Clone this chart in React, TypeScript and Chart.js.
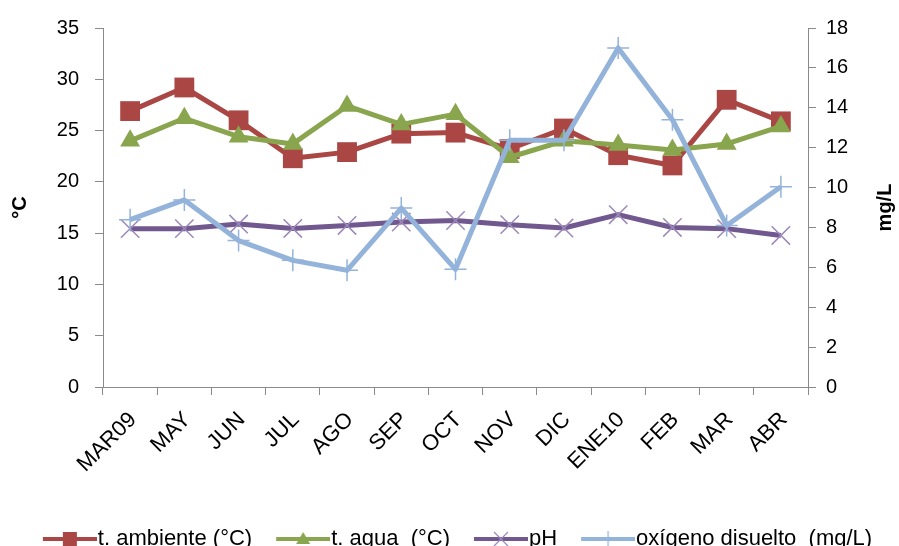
import React, { useEffect, useRef } from "react";
import { Chart, registerables } from "chart.js";

Chart.register(...registerables);

const categories = ["MAR09", "MAY", "JUN", "JUL", "AGO", "SEP", "OCT", "NOV", "DIC", "ENE10", "FEB", "MAR", "ABR"];
const tAmbiente = [26.9, 29.2, 26.0, 22.3, 22.9, 24.7, 24.8, 23.2, 25.2, 22.6, 21.6, 28.0, 25.9];
const tAgua = [24.0, 26.2, 24.4, 23.7, 27.4, 25.6, 26.6, 22.4, 24.0, 23.6, 23.1, 23.7, 25.4];
const pH = [7.94, 7.94, 8.17, 7.95, 8.1, 8.27, 8.35, 8.14, 7.97, 8.64, 8.0, 7.94, 7.6];
const oxigeno = [8.39, 9.38, 7.34, 6.35, 5.85, 8.97, 5.9, 12.37, 12.37, 17.0, 13.4, 8.1, 10.04];

const seriesNames = ["t. ambiente (°C)", "t. agua  (°C)", "pH", "oxígeno disuelto  (mg/L)"];
const leftTitle = "°C";
const rightTitle = "mg/L";

const RED = "#AA4643";
const GREEN = "#89A54E";
const PURPLE = "#71588F";
const PURPLE_MARK = "#9C88BA";
const BLUE = "#93B3DA";
const AXIS = "#8A8A8A";
const FONT = "'Liberation Sans', Arial, sans-serif";

// legend icon: transparent left part acts as spacing between items
function makeIcon(color: string, marker: string, markColor: string): HTMLCanvasElement {
  const c = document.createElement("canvas");
  c.width = 88;
  c.height = 22;
  const ctx = c.getContext("2d")!;
  const x0 = 34;
  const cx = x0 + 27, cy = 11;
  ctx.strokeStyle = color;
  ctx.lineWidth = 4;
  ctx.beginPath();
  ctx.moveTo(x0, cy);
  ctx.lineTo(88, cy);
  ctx.stroke();
  ctx.fillStyle = markColor;
  ctx.strokeStyle = markColor;
  if (marker === "rect") {
    ctx.fillRect(cx - 7, cy - 7, 14, 14);
  } else if (marker === "triangle") {
    ctx.beginPath();
    ctx.moveTo(cx, cy - 7);
    ctx.lineTo(cx + 7, cy + 5);
    ctx.lineTo(cx - 7, cy + 5);
    ctx.closePath();
    ctx.fill();
  } else if (marker === "crossRot") {
    ctx.lineWidth = 1.2;
    ctx.beginPath();
    ctx.moveTo(cx - 7, cy - 7);
    ctx.lineTo(cx + 7, cy + 7);
    ctx.moveTo(cx + 7, cy - 7);
    ctx.lineTo(cx - 7, cy + 7);
    ctx.stroke();
  } else if (marker === "cross") {
    ctx.lineWidth = 1.2;
    ctx.beginPath();
    ctx.moveTo(cx, cy - 8);
    ctx.lineTo(cx, cy + 8);
    ctx.stroke();
  }
  return c;
}

export default function App() {
  const ref = useRef<HTMLCanvasElement | null>(null);

  useEffect(() => {
    if (!ref.current) return;
    const icons = [
      makeIcon(RED, "rect", RED),
      makeIcon(GREEN, "triangle", GREEN),
      makeIcon(PURPLE, "crossRot", PURPLE_MARK),
      makeIcon(BLUE, "cross", BLUE),
    ];

    const titlePlugin = {
      id: "axisTitles",
      afterDraw(chart: any) {
        const ctx = chart.ctx;
        const area = chart.chartArea;
        const midY = (area.top + area.bottom) / 2;
        ctx.save();
        ctx.fillStyle = "#000";
        ctx.font = `bold 20px ${FONT}`;
        ctx.textAlign = "center";
        ctx.textBaseline = "alphabetic";
        ctx.translate(26, midY);
        ctx.rotate(-Math.PI / 2);
        ctx.fillText(leftTitle, 0, 0);
        ctx.restore();
        ctx.save();
        ctx.fillStyle = "#000";
        ctx.font = `bold 20px ${FONT}`;
        ctx.textAlign = "center";
        ctx.textBaseline = "alphabetic";
        ctx.translate(891, midY);
        ctx.rotate(-Math.PI / 2);
        ctx.fillText(rightTitle, 0, 0);
        ctx.restore();
      },
    };

    const chart = new Chart(ref.current, {
      type: "line",
      data: {
        labels: categories,
        datasets: [
          {
            label: seriesNames[0],
            data: tAmbiente,
            yAxisID: "y",
            borderColor: RED,
            backgroundColor: RED,
            borderWidth: 5,
            pointStyle: "rect",
            pointRadius: 14,
            pointBorderWidth: 0,
            pointBackgroundColor: RED,
            order: 3,
          },
          {
            label: seriesNames[1],
            data: tAgua,
            yAxisID: "y",
            borderColor: GREEN,
            backgroundColor: GREEN,
            borderWidth: 5,
            pointStyle: "triangle",
            pointRadius: 11.5,
            pointBorderWidth: 0,
            pointBackgroundColor: GREEN,
            order: 2,
          },
          {
            label: seriesNames[2],
            data: pH,
            yAxisID: "y1",
            borderColor: PURPLE,
            backgroundColor: PURPLE,
            borderWidth: 5,
            pointStyle: "crossRot",
            pointRadius: 13,
            pointBorderWidth: 1.5,
            pointBorderColor: PURPLE_MARK,
            order: 1,
          },
          {
            label: seriesNames[3],
            data: oxigeno,
            yAxisID: "y1",
            borderColor: BLUE,
            backgroundColor: BLUE,
            borderWidth: 5,
            pointStyle: "cross",
            pointRadius: 11,
            pointBorderWidth: 1.5,
            pointBorderColor: BLUE,
            order: 0,
          },
        ],
      },
      options: {
        animation: false,
        responsive: false,
        devicePixelRatio: 1,
        layout: { padding: { top: 25, left: 0, right: 8, bottom: 0 } },
        elements: { line: { tension: 0, borderJoinStyle: "round" } },
        plugins: {
          tooltip: { enabled: false },
          legend: {
            position: "bottom",
            labels: {
              usePointStyle: true,
              pointStyleWidth: 68,
              padding: 0,
              color: "#000",
              font: { family: FONT, size: 22 },
              generateLabels: (ch: any) =>
                ch.data.datasets.map((ds: any, i: number) => ({
                  text: ds.label,
                  pointStyle: icons[i],
                  fillStyle: ds.borderColor,
                  strokeStyle: ds.borderColor,
                  lineWidth: 0,
                  hidden: false,
                  datasetIndex: i,
                  fontColor: "#000",
                })),
            },
          },
        },
        scales: {
          x: {
            type: "category",
            offset: true,
            grid: {
              offset: true,
              drawOnChartArea: false,
              drawTicks: true,
              tickLength: 8,
              color: AXIS,
            },
            border: { color: AXIS, width: 1 },
            ticks: {
              color: "#000",
              font: { family: FONT, size: 22 },
              minRotation: 45,
              maxRotation: 45,
              autoSkip: false,
              padding: 12,
              labelOffset: 3,
            },
            afterFit: (s: any) => {
              s.height = 141;
            },
          },
          y: {
            position: "left",
            min: 0,
            max: 35,
            grid: { drawOnChartArea: false, tickLength: 8, color: AXIS },
            border: { color: AXIS, width: 1 },
            ticks: {
              stepSize: 5,
              color: "#000",
              font: { family: FONT, size: 20 },
              padding: 16,
            },
            afterFit: (s: any) => {
              s.width = 103;
            },
          },
          y1: {
            position: "right",
            min: 0,
            max: 18,
            grid: { drawOnChartArea: false, tickLength: 8, color: AXIS },
            border: { color: AXIS, width: 1 },
            ticks: {
              stepSize: 2,
              color: "#000",
              font: { family: FONT, size: 20 },
              padding: 10,
            },
            afterFit: (s: any) => {
              s.width = 83;
            },
          },
        },
      },
      plugins: [titlePlugin],
    } as any);

    return () => chart.destroy();
  }, []);

  return (
    <div
      style={{
        position: "fixed",
        left: 0,
        top: 0,
        width: 899,
        height: 546,
        overflow: "hidden",
        background: "#fff",
      }}
    >
      <canvas ref={ref} width={899} height={560} style={{ display: "block", width: 899, height: 560 }} />
    </div>
  );
}
